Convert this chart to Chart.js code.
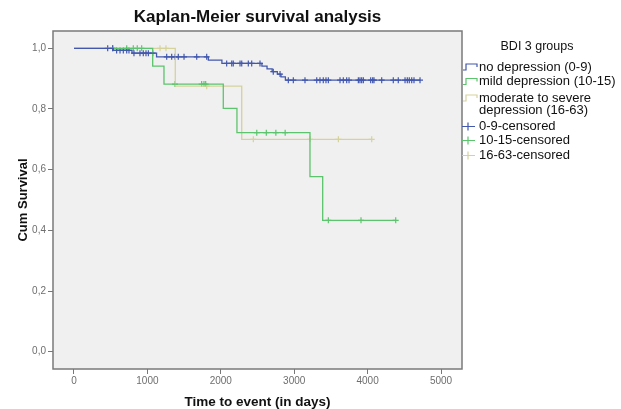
<!DOCTYPE html>
<html>
<head>
<meta charset="utf-8">
<title>Kaplan-Meier survival analysis</title>
<script src="https://cdn.jsdelivr.net/npm/chart.js@4.4.0/dist/chart.umd.min.js"></script>
<style>
  html, body { margin: 0; padding: 0; background: #fff; }
  canvas { display: block; }
</style>
</head>
<body>
<canvas id="km" width="621" height="409"></canvas>
<script>
// step curves: time of each event (days) and survival after it; last entry = end of follow-up
const noDepTimes = [0, 535, 790, 1125, 1830, 2015, 2560, 2630, 2700, 2770, 2820, 2880, 4714];
const noDepSurv  = [1, 0.993, 0.984, 0.972, 0.961, 0.950, 0.941, 0.932, 0.923, 0.915, 0.906, 0.895, 0.895];
const mildTimes  = [0, 1072, 1226, 2034, 2220, 3215, 3388, 4383];
const mildSurv   = [1, 0.941, 0.882, 0.802, 0.722, 0.577, 0.433, 0.433];
const modSevTimes = [0, 1380, 2285, 4056];
const modSevSurv  = [1, 0.875, 0.700, 0.700];

// censored follow-up times (days)
const noDepCensored = [459, 527, 581, 627, 672, 718, 749, 817, 899, 944, 981, 1013, 1072,
  1263, 1331, 1376, 1421, 1499, 1672, 1808, 2080, 2149, 2170, 2262, 2285, 2375, 2421, 2534,
  2715, 2807, 2920, 2988, 3147, 3307, 3351, 3396, 3433, 3465, 3624, 3669, 3715, 3747, 3874,
  3896, 3919, 3942, 4042, 4069, 4087, 4192, 4350, 4418, 4510, 4541, 4568, 4601, 4632, 4714];
const mildCensored = [527, 718, 808, 862, 922, 1376, 1739, 1771, 1794, 2490, 2620, 2750, 2877,
  3465, 3910, 4383];
const modSevCensored = [1172, 1253, 1808, 2443, 3215, 3602, 4056];

const xTicks = [0, 1000, 2000, 3000, 4000, 5000];
const yTicks = [0, 0.2, 0.4, 0.6, 0.8, 1.0];

const BLUE = '#4257ad';
const GREEN = '#5cc46c';
const TAN = '#d5d29c';

function curve(times, surv) {
  return times.map((t, i) => ({ x: t, y: surv[i] }));
}

// survival level in effect at time t
function survAt(times, surv, t) {
  let s = surv[0];
  for (let i = 0; i < times.length; i++) {
    if (times[i] <= t) s = surv[i];
  }
  return s;
}

function marks(censored, times, surv) {
  return censored.map(t => ({ x: t, y: survAt(times, surv, t) }));
}

function stepSet(label, pts, color) {
  return { label, data: pts, showLine: true, stepped: true, borderColor: color,
    borderWidth: 1.3, pointRadius: 0, pointHoverRadius: 0, fill: false };
}

function censorSet(label, pts, color) {
  return { label, data: pts, showLine: false, pointStyle: 'cross', pointRadius: 3,
    pointHoverRadius: 3, borderColor: color, backgroundColor: color, borderWidth: 1.2 };
}

const FONT = '"Liberation Sans", Arial, sans-serif';

// grey plot panel and frame
const panel = {
  id: 'panel',
  beforeDatasetsDraw(chart) {
    const { ctx, chartArea: a } = chart;
    ctx.save();
    ctx.fillStyle = '#f0f0f0';
    ctx.fillRect(a.left, a.top, a.right - a.left, a.bottom - a.top);
    ctx.restore();
  },
  afterDatasetsDraw(chart) {
    const { ctx, chartArea: a } = chart;
    ctx.save();
    ctx.strokeStyle = '#7a7a7a';
    ctx.lineWidth = 1.5;
    ctx.strokeRect(a.left, a.top, a.right - a.left, a.bottom - a.top);
    ctx.restore();
  }
};

const legendRows = [
  { text: ['no depression (0-9)'], color: BLUE, kind: 'step', y: 67 },
  { text: ['mild depression (10-15)'], color: GREEN, kind: 'step', y: 81.5 },
  { text: ['moderate to severe', 'depression (16-63)'], color: TAN, kind: 'step', y: 98 },
  { text: ['0-9-censored'], color: BLUE, kind: 'cross', y: 126.5 },
  { text: ['10-15-censored'], color: GREEN, kind: 'cross', y: 140.5 },
  { text: ['16-63-censored'], color: TAN, kind: 'cross', y: 155.5 }
];

const sideLegend = {
  id: 'sideLegend',
  afterDraw(chart) {
    const ctx = chart.ctx;
    const x0 = chart.chartArea.right + 1;
    ctx.save();
    ctx.fillStyle = '#111';
    ctx.textBaseline = 'middle';
    ctx.textAlign = 'center';
    ctx.font = '12.5px ' + FONT;
    ctx.fillText('BDI 3 groups', 537, 47);
    ctx.textAlign = 'left';
    ctx.font = '13px ' + FONT;
    legendRows.forEach(r => {
      ctx.strokeStyle = r.color;
      ctx.lineWidth = 1.2;
      ctx.beginPath();
      if (r.kind === 'step') {
        ctx.moveTo(x0, r.y + 3);
        ctx.lineTo(x0 + 3, r.y + 3);
        ctx.lineTo(x0 + 3, r.y - 3);
        ctx.lineTo(x0 + 14, r.y - 3);
        ctx.lineTo(x0 + 14, r.y);
      } else {
        ctx.moveTo(x0 - 1, r.y);
        ctx.lineTo(x0 + 12, r.y);
        ctx.moveTo(x0 + 5, r.y - 4);
        ctx.lineTo(x0 + 5, r.y + 4);
      }
      ctx.stroke();
      r.text.forEach((line, i) => ctx.fillText(line, 479, r.y + i * 12.5));
    });
    ctx.restore();
  }
};

const commaLabel = v => v.toFixed(1).replace('.', ',');

new Chart(document.getElementById('km'), {
  type: 'scatter',
  data: {
    datasets: [
      stepSet('no depression (0-9)', curve(noDepTimes, noDepSurv), BLUE),
      stepSet('mild depression (10-15)', curve(mildTimes, mildSurv), GREEN),
      stepSet('moderate to severe depression (16-63)', curve(modSevTimes, modSevSurv), TAN),
      censorSet('0-9-censored', marks(noDepCensored, noDepTimes, noDepSurv), BLUE),
      censorSet('10-15-censored', marks(mildCensored, mildTimes, mildSurv), GREEN),
      censorSet('16-63-censored', marks(modSevCensored, modSevTimes, modSevSurv), TAN)
    ]
  },
  options: {
    responsive: false,
    animation: false,
    layout: { padding: { left: 0, right: 159, top: 0, bottom: 0 } },
    plugins: {
      legend: { display: false },
      tooltip: { enabled: false },
      title: {
        display: true,
        text: 'Kaplan-Meier survival analysis',
        fullSize: false,
        color: '#111',
        font: { family: FONT, size: 17, weight: 'bold', lineHeight: 1.2 },
        padding: { top: 7, bottom: 3.6 }
      }
    },
    scales: {
      x: {
        type: 'linear',
        min: -286,
        max: 5286,
        afterBuildTicks: s => { s.ticks = xTicks.map(v => ({ value: v })); },
        afterFit: s => { s.height = 40; },
        border: { display: false },
        grid: { drawOnChartArea: false, drawTicks: true, tickLength: 5, color: '#777', tickWidth: 1 },
        ticks: { color: '#6e6e6e', font: { family: FONT, size: 10 }, padding: 1, maxRotation: 0,
          callback: v => String(v) },
        title: {
          display: true,
          text: 'Time to event (in days)',
          color: '#111',
          font: { family: FONT, size: 13.5, weight: 'bold', lineHeight: 1 },
          padding: 0
        }
      },
      y: {
        type: 'linear',
        min: -0.057,
        max: 1.057,
        afterBuildTicks: s => { s.ticks = yTicks.map(v => ({ value: v })); },
        afterFit: s => { s.width = 53; },
        border: { display: false },
        grid: { drawOnChartArea: false, drawTicks: true, tickLength: 5, color: '#777', tickWidth: 1 },
        ticks: { color: '#6e6e6e', font: { family: FONT, size: 10 }, padding: 2, callback: v => commaLabel(v) },
        title: {
          display: true,
          text: 'Cum Survival',
          color: '#111',
          font: { family: FONT, size: 13, weight: 'bold', lineHeight: 1.2 },
          padding: { top: 16, bottom: 0 }
        }
      }
    }
  },
  plugins: [panel, sideLegend]
});
</script>
</body>
</html>
